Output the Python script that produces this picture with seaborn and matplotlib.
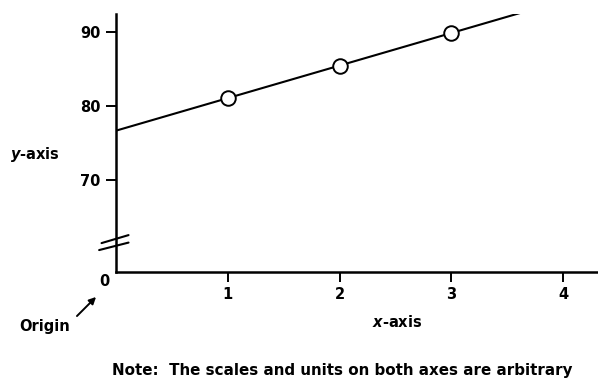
import numpy as np
import pandas as pd
import matplotlib
matplotlib.use("Agg")
import matplotlib.pyplot as plt
import seaborn as sns

# values
x_points = [1, 2, 3]
y_points = [81.1, 85.4, 89.9]
line_end = 3.62
x_ticks = [1, 2, 3, 4]
y_ticks = [70, 80, 90]
note = "Note:  The scales and units on both axes are arbitrary"

sns.set_style("ticks", {"axes.edgecolor": "black", "text.color": "black",
                        "xtick.color": "black", "ytick.color": "black"})
plt.rcParams['font.family'] = ['DejaVu Sans']
plt.rcParams['font.weight'] = 'bold'
plt.rcParams['mathtext.fontset'] = 'custom'
plt.rcParams['mathtext.it'] = 'DejaVu Sans:italic:bold'
plt.rcParams['mathtext.rm'] = 'DejaVu Sans:bold'
fs = 10.5

df = pd.DataFrame({"x": x_points, "y": y_points})
slope, intercept = np.polyfit(df.x, df.y, 1)
fit = pd.DataFrame({"x": [0, line_end]})
fit["y"] = intercept + slope * fit.x

fig = plt.figure(figsize=(5.98, 3.87), dpi=100)
ax = fig.add_axes([116/598, 115/387, 482/598, 258/387])

sns.lineplot(data=fit, x="x", y="y", color="black", linewidth=1.5, ax=ax)
sns.scatterplot(data=df, x="x", y="y", marker="o", s=110, facecolor="white",
                edgecolor="black", linewidth=1.4, zorder=3, ax=ax)

ax.set_xlim(0, 4.31)
ax.set_ylim(57.57, 92.43)
ax.set_xticks(x_ticks)
ax.set_yticks(y_ticks)
ax.set_xlabel("")
ax.set_ylabel("")
sns.despine(ax=ax)
for s in ["left", "bottom"]:
    ax.spines[s].set_linewidth(1.8)
ax.tick_params(length=7, width=1.4, labelsize=fs, pad=4, colors="black")

# axis break marks
kw = dict(transform=ax.transAxes, color="black", linewidth=1.5, clip_on=False)
ax.plot([-0.030, 0.026], [0.112, 0.143], **kw)
ax.plot([-0.035, 0.026], [0.085, 0.114], **kw)

ax.text(-0.024, -0.038, "0", transform=ax.transAxes, ha="center", va="center",
        fontsize=fs, color="black")
fig.text(35/598, 1 - 154/387, "$\\mathit{y}$-axis", ha="center", va="center",
         fontsize=fs, color="black")
fig.text(397/598, 1 - 322/387, "$\\mathit{x}$-axis", ha="center", va="center",
         fontsize=fs, color="black")
fig.text(45/598, 1 - 327/387, "Origin", ha="center", va="center", fontsize=fs,
         color="black")
fig.add_artist(matplotlib.patches.FancyArrowPatch(
    (75/598, 1 - 318/387), (98/598, 1 - 295/387), transform=fig.transFigure,
    arrowstyle="-|>", mutation_scale=10, color="black", linewidth=1.4))
fig.text(112/598, 1 - 370/387, note, ha="left", va="center", fontsize=10.9,
         color="black")

fig.savefig("out.png", dpi=100)
